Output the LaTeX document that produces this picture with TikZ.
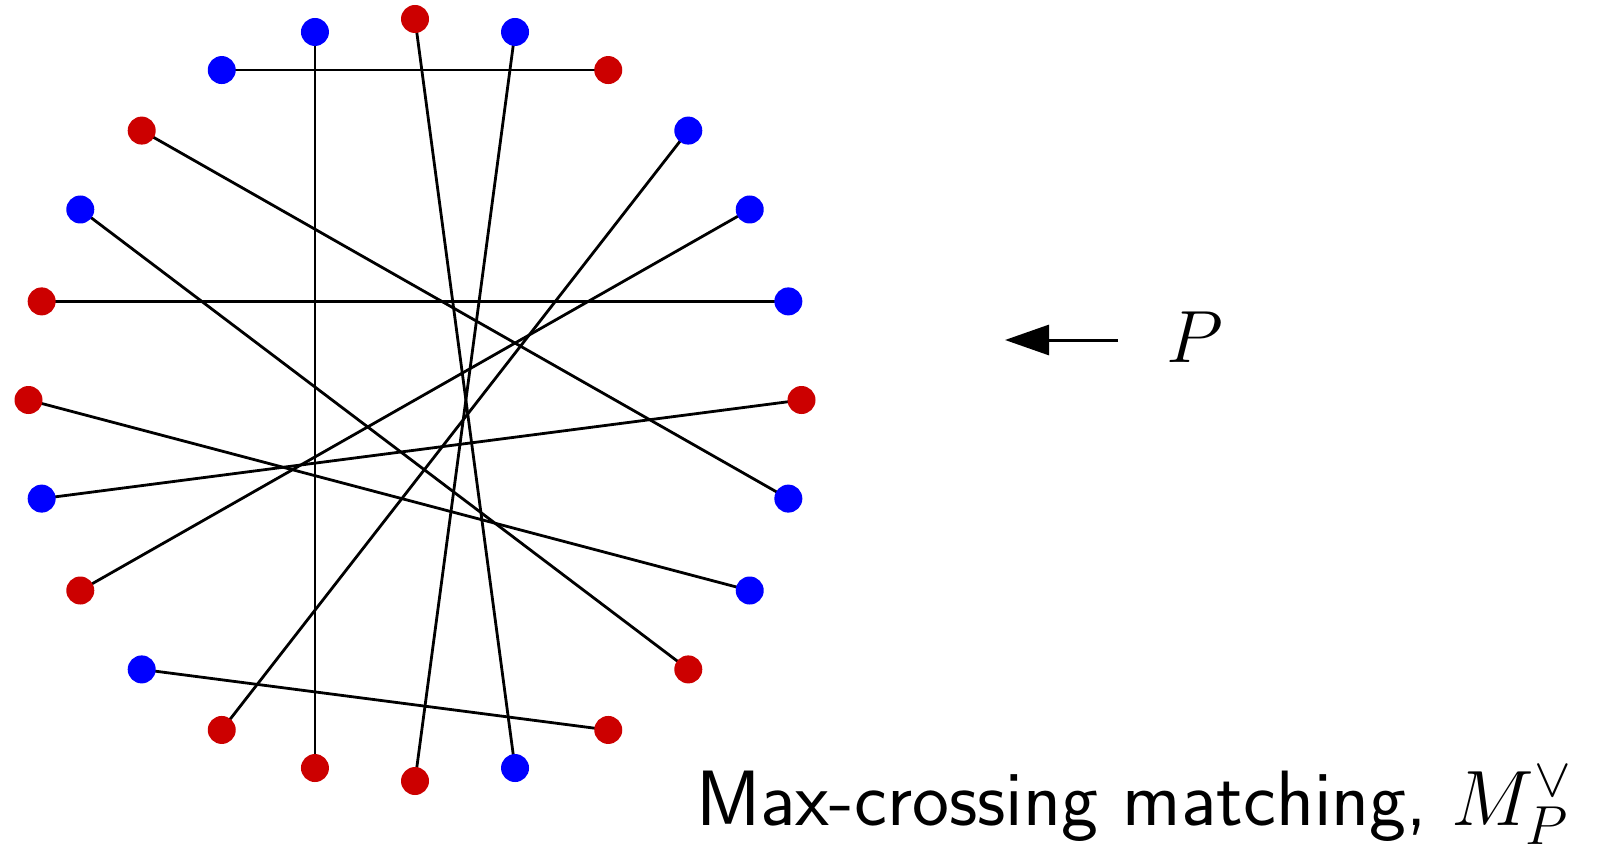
\RequirePackage{fix-cm}
\documentclass[tikz,border=0pt]{standalone}
\usetikzlibrary{arrows.meta}
\definecolor{ptred}{RGB}{204,0,0}
\definecolor{ptblue}{RGB}{0,0,255}
\tikzset{
  dot/.style={circle,inner sep=0pt,minimum size=28pt},
  reddot/.style={dot,fill=ptred},
  bluedot/.style={dot,fill=ptblue},
  matchedge/.style={line width=2.8pt,black},
  pointer/.style={line width=3pt,-{Triangle[length=44pt,width=30pt]}},
}
\begin{document}
\begin{tikzpicture}[x=1pt,y=-1pt]
\useasboundingbox (0,0) rectangle (1601,845);
% 24 points spaced by 15 degrees on a near-circle
\foreach \k/\c in {0/red,1/blue,2/blue,3/blue,4/red,5/blue,6/red,7/blue,8/blue,
  9/red,10/blue,11/red,12/red,13/blue,14/red,15/blue,16/red,17/red,18/red,
  19/blue,20/red,21/red,22/blue,23/blue}
  \coordinate (c\k) at ({415+386.5*cos(15*\k)},{400-381*sin(15*\k)});
% the matching
\foreach \a/\b in {8/4,7/17,6/19,5/18,9/23,3/16,2/14,10/21,11/1,12/22,13/0,15/20}
  \draw[matchedge] (c\a) -- (c\b);
% the points
\foreach \k/\c in {0/red,1/blue,2/blue,3/blue,4/red,5/blue,6/red,7/blue,8/blue,
  9/red,10/blue,11/red,12/red,13/blue,14/red,15/blue,16/red,17/red,18/red,
  19/blue,20/red,21/red,22/blue,23/blue}
  \node[\c dot] (v\k) at (c\k) {};
% label P with pointer
\node[inner sep=0pt,anchor=base west,font=\fontsize{74}{80}\selectfont] (plabel) at (1166,362) {$P$};
\coordinate (ptail) at (1118,340);
\coordinate (phead) at (1005,340);
\draw[pointer] (ptail) -- (phead);
% caption
\node[inner sep=0pt,anchor=base west,font=\fontsize{78.5}{84}\selectfont\sffamily] (caption) at (696,825) {Max-crossing matching, $M_P^\vee$};
\end{tikzpicture}
\end{document}
